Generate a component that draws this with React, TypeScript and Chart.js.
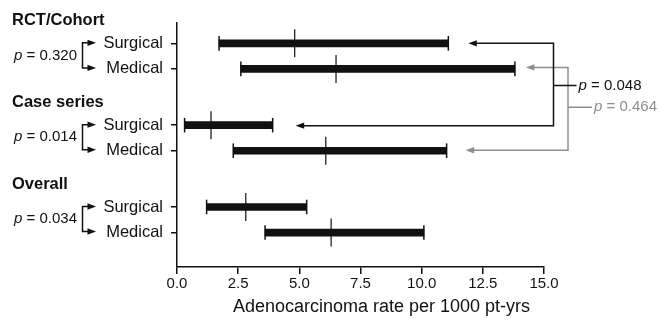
import React, { useEffect, useRef } from 'react';
import { Chart, registerables } from 'chart.js';

Chart.register(...registerables);

// ---- data ----
const groupNames = ['RCT/Cohort', 'Case series', 'Overall'];
const rowLabels = ['Surgical', 'Medical', 'Surgical', 'Medical', 'Surgical', 'Medical'];
const rowPositions = [0, 1, 3.2, 4.2, 6.4, 7.4];
const rateLow = [1.72, 2.61, 0.31, 2.3, 1.21, 3.6];
const ratePoint = [4.81, 6.5, 1.39, 6.08, 2.81, 6.3];
const rateHigh = [11.09, 13.81, 3.91, 11.02, 5.3, 10.09];
const groupPValues = ['0.320', '0.014', '0.034'];
const surgicalRows = [0, 2];
const surgicalCompareP = '0.048';
const medicalRows = [1, 3];
const medicalCompareP = '0.464';
const xTickValues = [0, 2.5, 5, 7.5, 10, 12.5, 15];
const xAxisTitle = 'Adenocarcinoma rate per 1000 pt-yrs';

const FONT = '"Liberation Sans", Arial, Helvetica, sans-serif';
const INK = '#111111';
const GREY = '#8e8e8e';

const comparisons = [
  { rows: surgicalRows, p: surgicalCompareP, color: INK, xOff: 9.5, tipGap: [20, 23], stub: 23, textGap: 2, dy: 1 },
  { rows: medicalRows, p: medicalCompareP, color: GREY, xOff: 24, tipGap: [11, 19], stub: 24, textGap: 2, dy: -1.5 },
];

function arrowHead(ctx: CanvasRenderingContext2D, tipX: number, y: number, dir: number, color: string) {
  ctx.fillStyle = color;
  ctx.beginPath();
  ctx.moveTo(tipX, y);
  ctx.lineTo(tipX + dir * 8.5, y - 3.2);
  ctx.lineTo(tipX + dir * 8.5, y + 3.2);
  ctx.closePath();
  ctx.fill();
}

function drawP(ctx: CanvasRenderingContext2D, value: string, x: number, y: number, align: 'left' | 'right', color: string, size: number) {
  const italic = `italic ${size}px ${FONT}`;
  const normal = `${size}px ${FONT}`;
  const rest = ' = ' + value;
  ctx.font = italic;
  const wp = ctx.measureText('p').width;
  ctx.font = normal;
  const wr = ctx.measureText(rest).width;
  const start = align === 'left' ? x : x - wp - wr;
  ctx.fillStyle = color;
  ctx.textAlign = 'left';
  ctx.textBaseline = 'middle';
  ctx.font = italic;
  ctx.fillText('p', start, y);
  ctx.font = normal;
  ctx.fillText(rest, start + wp, y);
}

const annotationPlugin = {
  id: 'annotationPlugin',
  afterDraw(chart: any) {
    const ctx: CanvasRenderingContext2D = chart.ctx;
    const xs = chart.scales.x;
    const ys = chart.scales.y;
    ctx.save();
    ctx.lineWidth = 1.5;

    // group headers
    ctx.font = `bold 16.5px ${FONT}`;
    ctx.fillStyle = INK;
    ctx.textAlign = 'left';
    ctx.textBaseline = 'middle';
    groupNames.forEach((g, i) => {
      const y = ys.getPixelForValue(rowPositions[2 * i]) - 23;
      ctx.fillText(g, 12, y);
    });

    // x-axis title
    ctx.font = `18px ${FONT}`;
    ctx.textAlign = 'center';
    ctx.fillText(xAxisTitle, xs.getPixelForValue(7.5) + 21, 307);

    // left brackets with within-group p values
    groupPValues.forEach((p, i) => {
      const y0 = ys.getPixelForValue(rowPositions[2 * i]) - 0.5;
      const y1 = ys.getPixelForValue(rowPositions[2 * i + 1]) - 1;
      const xv = 82.5;
      const tip = 96;
      ctx.strokeStyle = INK;
      ctx.beginPath();
      ctx.moveTo(tip - 6, y0);
      ctx.lineTo(xv, y0);
      ctx.lineTo(xv, y1);
      ctx.lineTo(tip - 6, y1);
      ctx.stroke();
      arrowHead(ctx, tip, y0, -1, INK);
      arrowHead(ctx, tip, y1, -1, INK);
      drawP(ctx, p, 77, (y0 + y1) / 2, 'right', INK, 15);
    });

    // right comparison brackets (grey first, black on top)
    [...comparisons].reverse().forEach((c) => {
      const [ra, rb] = c.rows;
      const ya = ys.getPixelForValue(rowPositions[ra]) + (c.color === GREY ? -1.5 : 0);
      const yb = ys.getPixelForValue(rowPositions[rb]) + (c.color === GREY ? -0.5 : 0.5);
      const X = xs.right + c.xOff;
      const tipA = xs.getPixelForValue(rateHigh[ra]) + c.tipGap[0];
      const tipB = xs.getPixelForValue(rateHigh[rb]) + c.tipGap[1];
      const ym = (ya + yb) / 2 + c.dy;
      ctx.strokeStyle = c.color;
      ctx.beginPath();
      ctx.moveTo(tipA + 6, ya);
      ctx.lineTo(X, ya);
      ctx.lineTo(X, yb);
      ctx.lineTo(tipB + 6, yb);
      ctx.moveTo(X, ym);
      ctx.lineTo(X + c.stub, ym);
      ctx.stroke();
      arrowHead(ctx, tipA, ya, 1, c.color);
      arrowHead(ctx, tipB, yb, 1, c.color);
      drawP(ctx, c.p, X + c.stub + c.textGap, ym, 'left', c.color, 15);
    });

    ctx.restore();
  },
};

export default function App() {
  const canvasRef = useRef<HTMLCanvasElement | null>(null);

  useEffect(() => {
    if (!canvasRef.current) return;
    Chart.defaults.font.family = FONT;
    const bars = rowPositions.map((p, i) => ({ y: p, x: [rateLow[i], rateHigh[i]] }));
    const caps = [
      ...rowPositions.map((p, i) => ({ x: rateLow[i], y: p })),
      ...rowPositions.map((p, i) => ({ x: rateHigh[i], y: p })),
    ];
    const points = rowPositions.map((p, i) => ({ x: ratePoint[i], y: p }));

    const chart = new Chart(canvasRef.current, {
      type: 'bar',
      data: {
        datasets: [
          {
            type: 'bar',
            indexAxis: 'y',
            data: bars as any,
            backgroundColor: INK,
            borderWidth: 0,
            barThickness: 7,
            grouped: false,
          } as any,
          {
            type: 'scatter',
            data: caps,
            pointStyle: 'line',
            rotation: 90,
            radius: 7.3,
            borderColor: INK,
            borderWidth: 1.5,
          } as any,
          {
            type: 'scatter',
            data: points,
            pointStyle: 'line',
            rotation: 90,
            radius: 14,
            borderColor: '#222',
            borderWidth: 1.3,
          } as any,
        ],
      },
      options: {
        indexAxis: 'y',
        animation: false,
        responsive: false,
        events: [],
        layout: { padding: { top: 23, right: 116, bottom: 0, left: 0 } },
        plugins: { legend: { display: false }, tooltip: { enabled: false } },
        scales: {
          x: {
            type: 'linear',
            offset: false,
            min: 0,
            max: 15,
            afterBuildTicks: (s: any) => {
              s.ticks = xTickValues.map((v) => ({ value: v }));
            },
            afterFit: (s: any) => {
              s.height = 56;
            },
            ticks: {
              callback: (v: any) => Number(v).toFixed(1),
              color: INK,
              font: { size: 15 },
              padding: 1,
              maxRotation: 0,
              autoSkip: false,
            },
            grid: { offset: false, drawOnChartArea: false, drawTicks: true, tickLength: 7, color: INK, lineWidth: 1.5 },
            border: { display: true, color: INK, width: 1.5 },
            title: { display: false },
          },
          y: {
            type: 'linear',
            offset: false,
            reverse: true,
            min: -0.795,
            max: 8.747,
            afterBuildTicks: (s: any) => {
              s.ticks = rowPositions.map((v) => ({ value: v }));
            },
            afterFit: (s: any) => {
              s.width = 177;
            },
            ticks: {
              callback: (_v: any, i: number) => rowLabels[i],
              color: INK,
              font: { size: 16.5 },
              padding: 8,
              autoSkip: false,
            },
            grid: { offset: false, drawOnChartArea: false, drawTicks: true, tickLength: 6, color: INK, lineWidth: 1.5 },
            border: { display: true, color: INK, width: 1.5 },
          },
        },
      } as any,
      plugins: [annotationPlugin],
    });
    return () => chart.destroy();
  }, []);

  return (
    <div style={{ position: 'absolute', left: 0, top: 0, width: 660, height: 323, background: '#fff' }}>
      <canvas ref={canvasRef} width={660} height={323} style={{ display: 'block' }} />
    </div>
  );
}
